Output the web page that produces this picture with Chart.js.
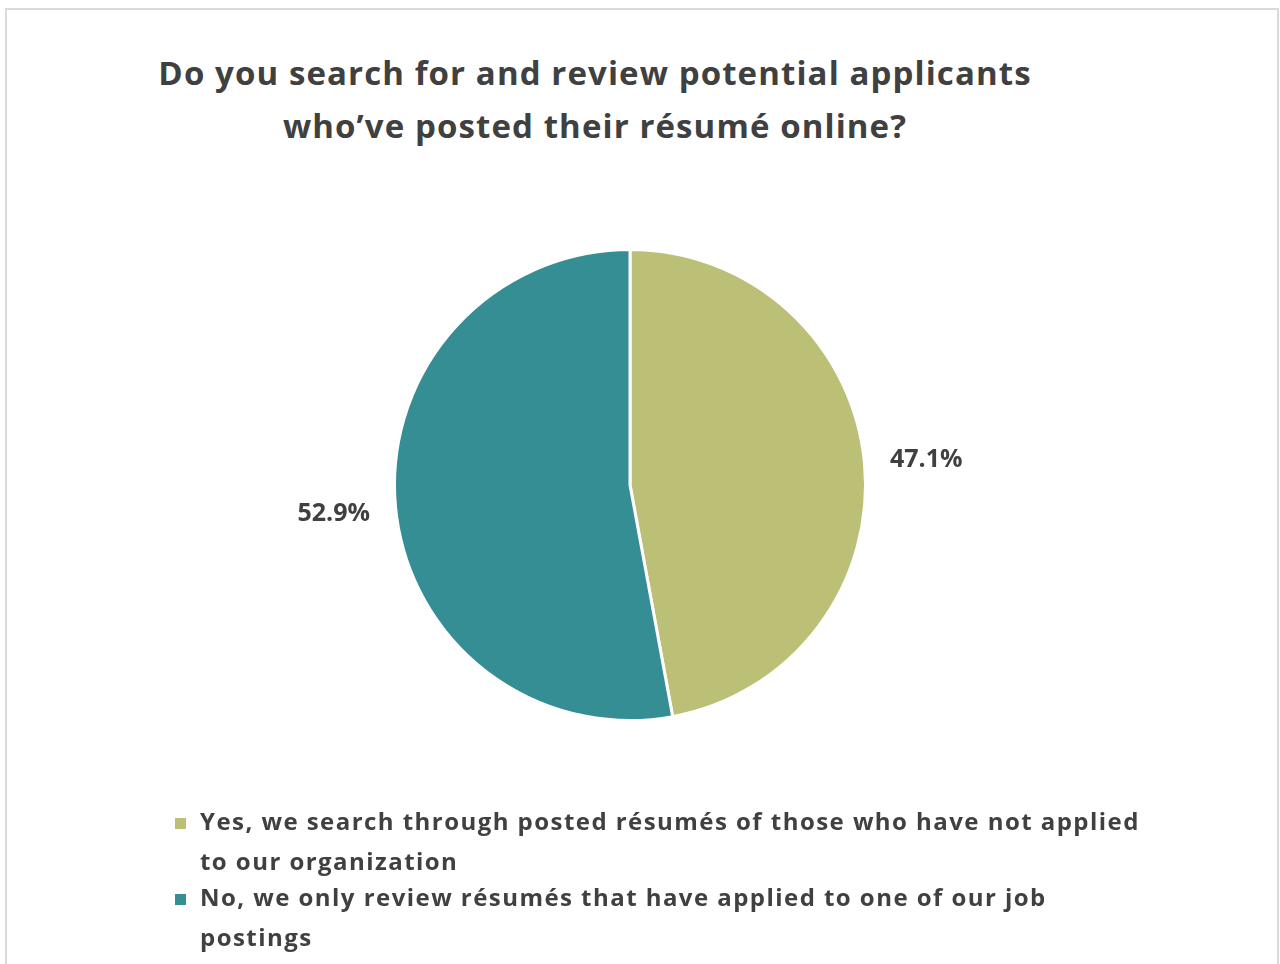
<!DOCTYPE html>
<html>
<head>
<meta charset="utf-8">
<title>Résumé search survey</title>
<script src="https://cdn.jsdelivr.net/npm/chart.js@4.4.0/dist/chart.umd.min.js"></script>
<style>
    html, body { margin: 0; padding: 0; background: #fff; }
    body {
        width: 1280px; height: 964px; position: relative; overflow: hidden;
        font-family: "Open Sans", Lato, sans-serif; color: #404040;
    }
    .frame {
        position: absolute; left: 5px; top: 8px; width: 1274px; height: 980px;
        border: 2px solid #dadada; box-sizing: border-box;
    }
    h1 {
        position: absolute; left: 0; top: 46px; width: 1190px; margin: 0;
        text-align: center; font-size: 33px; line-height: 53px; font-weight: 700;
        letter-spacing: 1.1px;
    }
    #chartWrap { position: absolute; left: 0; top: 0; width: 1280px; height: 964px; }
    #legend { position: absolute; left: 175px; top: 801px; margin: 0; padding: 0; list-style: none; }
    #legend li { display: flex; align-items: flex-start; }
    #legend li + li { margin-top: -4px; }
    #legend .box { width: 11px; height: 11px; margin-top: 17px; margin-right: 14px; flex: none; }
    #legend .txt {
        width: 952px; font-size: 24px; line-height: 40px; font-weight: 700;
        letter-spacing: 1.45px;
    }
</style>
</head>
<body>
<div class="frame"></div>
<h1>Do you search for and review potential applicants<br>who’ve posted their résumé online?</h1>
<div id="chartWrap"><canvas id="pieChart"></canvas></div>
<ul id="legend"></ul>

<script>
// Survey answers and their share of respondents (%)
const categories = [
    'Yes, we search through posted résumés of those who have not applied to our organization',
    'No, we only review résumés that have applied to one of our job postings'
];
const shares = [47.1, 52.9];
const sliceColors = ['#BCC076', '#358E94'];

// Percent labels placed just outside each slice
const outsideLabels = {
    id: 'outsideLabels',
    afterDatasetsDraw(chart) {
        const ctx = chart.ctx;
        const meta = chart.getDatasetMeta(0);
        ctx.save();
        ctx.font = 'bold 25px "Open Sans", Lato, sans-serif';
        ctx.fillStyle = '#404040';
        ctx.textAlign = 'center';
        ctx.textBaseline = 'middle';
        meta.data.forEach((arc, i) => {
            const p = arc.getProps(['x', 'y', 'startAngle', 'endAngle', 'outerRadius'], true);
            const mid = (p.startAngle + p.endAngle) / 2;
            const r = p.outerRadius + 62;
            const value = chart.data.datasets[0].data[i];
            ctx.fillText(value.toFixed(1) + '%', p.x + Math.cos(mid) * r, p.y + Math.sin(mid) * r + 2);
        });
        ctx.restore();
    }
};

// Legend rendered as HTML so long labels can wrap
const htmlLegend = {
    id: 'htmlLegend',
    afterUpdate(chart) {
        const list = document.getElementById('legend');
        list.innerHTML = '';
        const items = chart.options.plugins.legend.labels.generateLabels(chart);
        items.forEach(item => {
            const li = document.createElement('li');
            const box = document.createElement('span');
            box.className = 'box';
            box.style.background = item.fillStyle;
            const txt = document.createElement('span');
            txt.className = 'txt';
            txt.textContent = item.text;
            li.appendChild(box);
            li.appendChild(txt);
            list.appendChild(li);
        });
    }
};

const ctx = document.getElementById('pieChart').getContext('2d');
new Chart(ctx, {
    type: 'pie',
    data: {
        labels: categories,
        datasets: [{
            data: shares,
            backgroundColor: sliceColors,
            borderColor: '#ffffff',
            borderWidth: 3
        }]
    },
    options: {
        responsive: true,
        maintainAspectRatio: false,
        animation: false,
        layout: {
            padding: { top: 248, bottom: 242, left: 0, right: 20 }
        },
        plugins: {
            legend: { display: false },
            tooltip: { enabled: false }
        }
    },
    plugins: [outsideLabels, htmlLegend]
});
</script>
</body>
</html>
